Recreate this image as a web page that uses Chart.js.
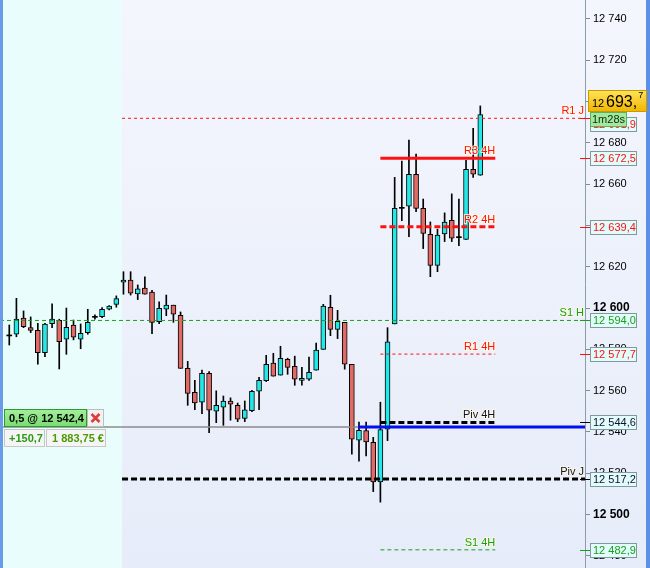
<!DOCTYPE html>
<html>
<head>
<meta charset="utf-8">
<title>DAX 1m</title>
<script src="https://cdn.jsdelivr.net/npm/chart.js@4.4.1/dist/chart.umd.min.js"></script>
<style>
html, body { margin: 0; padding: 0; background: #fff; }
#wrap { position: relative; width: 650px; height: 568px; }
</style>
</head>
<body>
<div id="wrap"><canvas id="chart" width="650" height="568"></canvas></div>
<script>
// candles
const opens  = [12586.5, 12587.3, 12595.1, 12590.5, 12589.2, 12578.4, 12592.4, 12594.1, 12584.9, 12591.7,
                12584.9, 12588.1, 12595.5, 12595.8, 12599.4, 12601.8, 12612.5, 12613.5, 12606.8, 12609.7,
                12607.7, 12593.4, 12599.4, 12601.4, 12596.5, 12570.8, 12559.2, 12554.4, 12568.4, 12550.0,
                12552.0, 12554.9, 12552.9, 12546.6, 12550.3, 12559.7, 12564.8, 12573.3, 12567.5, 12575.2,
                12571.8, 12565.0, 12565.5, 12569.9, 12580.0, 12600.4, 12589.7, 12593.1, 12572.8, 12536.0,
                12540.6, 12535.0, 12515.8, 12541.3, 12592.3, 12648.3, 12649.4, 12664.8, 12648.3, 12635.7,
                12620.7, 12635.9, 12642.5, 12634.1, 12633.3, 12667.2, 12664.3];
const highs  = [12591.8, 12604.7, 12598.6, 12595.7, 12592.6, 12592.6, 12602.0, 12594.6, 12600.0, 12594.2,
                12592.3, 12599.4, 12596.7, 12600.2, 12601.2, 12605.9, 12617.6, 12617.6, 12611.2, 12615.1,
                12608.6, 12603.0, 12606.3, 12601.4, 12598.1, 12574.2, 12565.0, 12569.9, 12569.2, 12559.9,
                12557.4, 12556.5, 12554.0, 12555.0, 12560.2, 12566.5, 12577.1, 12578.1, 12581.5, 12575.7,
                12576.7, 12571.3, 12576.2, 12583.0, 12601.8, 12606.2, 12598.9, 12593.1, 12572.8, 12544.8,
                12544.8, 12537.4, 12554.4, 12590.5, 12663.3, 12671.2, 12681.4, 12674.6, 12652.8, 12641.7,
                12638.2, 12646.1, 12655.3, 12652.8, 12671.6, 12687.1, 12697.9];
const lows   = [12582.1, 12586.1, 12590.5, 12588.1, 12572.8, 12576.5, 12590.5, 12570.5, 12577.6, 12584.6,
                12580.3, 12587.3, 12594.6, 12595.4, 12599.1, 12600.4, 12606.7, 12606.3, 12604.1, 12606.7,
                12587.6, 12592.4, 12596.3, 12593.1, 12570.8, 12552.9, 12550.8, 12548.9, 12539.7, 12544.5,
                12543.2, 12545.7, 12545.0, 12545.0, 12549.8, 12550.8, 12564.4, 12567.0, 12567.5, 12567.9,
                12562.6, 12562.6, 12565.0, 12569.9, 12580.0, 12586.6, 12585.2, 12570.4, 12529.2, 12525.8,
                12528.4, 12511.1, 12506.0, 12535.8, 12592.3, 12642.3, 12634.6, 12646.7, 12628.8, 12615.2,
                12617.6, 12632.2, 12632.2, 12630.2, 12633.3, 12663.3, 12664.3];
const closes = [12586.5, 12594.6, 12591.0, 12589.2, 12578.4, 12592.2, 12594.6, 12583.7, 12590.7, 12585.9,
                12587.8, 12593.1, 12595.5, 12599.4, 12600.9, 12604.6, 12613.6, 12607.2, 12609.3, 12606.7,
                12593.1, 12599.9, 12601.4, 12597.0, 12570.8, 12558.7, 12554.0, 12568.4, 12550.5, 12552.9,
                12554.9, 12553.4, 12546.2, 12550.7, 12559.7, 12565.0, 12572.8, 12567.0, 12575.7, 12571.3,
                12565.5, 12566.0, 12568.9, 12579.6, 12600.9, 12589.7, 12593.6, 12572.8, 12536.5, 12540.8,
                12535.2, 12515.8, 12541.1, 12583.7, 12648.3, 12648.3, 12664.8, 12648.3, 12636.2, 12620.7,
                12635.3, 12641.6, 12633.9, 12634.1, 12667.2, 12664.9, 12693.7];

const yTicks = [12480, 12500, 12520, 12540, 12560, 12580, 12600, 12620, 12640, 12660, 12680, 12700, 12720, 12740];

// pivot levels
const levelNames  = ['R1 J', 'R3 4H', 'R2 4H', 'S1 H', 'R1 4H', 'Piv 4H', 'Piv J', 'S1 4H'];
const levelValues = [12691.9, 12672.5, 12639.4, 12594.0, 12577.7, 12544.6, 12517.2, 12482.9];

// open position and last price
const positionSize = '0,5';
const positionPrice = 12542.4;
const positionPoints = '+150,7';
const positionMoney = '1 883,75 €';
const lastPrice = 12693.7;
const countdown = '1m28s';

const X_MIN = -1.3, X_MAX = 80.67;
const RED = '#ff1010', GREEN = '#18a018', DARK = '#101030';
// x extents (bar index units) and look of every level line
const levelStyle = [
  { from: 15.8, to: X_MAX, color: RED,   width: 1, dash: [3, 3], lab: 'axis' },
  { from: 52,   to: 68.1,  color: RED,   width: 3, dash: [],     lab: 'end' },
  { from: 52,   to: 68.1,  color: RED,   width: 3, dash: [6, 3], lab: 'end' },
  { from: X_MIN,to: X_MAX, color: GREEN, width: 1, dash: [4, 3], lab: 'axis' },
  { from: 52,   to: 68.1,  color: RED,   width: 1, dash: [3, 3], lab: 'end' },
  { from: 52,   to: 68.1,  color: '#000',width: 3, dash: [6, 3], lab: 'end', text: DARK },
  { from: 15.8, to: X_MAX, color: '#000',width: 3, dash: [6, 3], lab: 'axis', text: DARK },
  { from: 52,   to: 68.1,  color: GREEN, width: 1, dash: [4, 3], lab: 'end' }
];

const FONT = '"Liberation Sans", Arial, sans-serif';
const fmtInt = v => String(v).replace(/\B(?=(\d{3})+(?!\d))/g, ' ');
const fmtPrice = v => { const p = v.toFixed(1).split('.'); return fmtInt(p[0]) + ',' + p[1]; };

const idx = opens.map((_, i) => i);
const bodyColor = i => closes[i] > opens[i] ? '#22e8e8' : (closes[i] < opens[i] ? '#e06a66' : '#000');

const lineSets = levelValues.map((v, k) => ({
  type: 'line',
  label: levelNames[k],
  data: [{ x: levelStyle[k].from, y: v }, { x: levelStyle[k].to, y: v }],
  borderColor: levelStyle[k].color,
  borderWidth: levelStyle[k].width,
  borderDash: levelStyle[k].dash,
  pointRadius: 0,
  order: 0
}));
// position line: gray left of the entry, blue after it
lineSets.push({ type: 'line', label: 'pos', data: [{ x: X_MIN, y: positionPrice }, { x: 48.86, y: positionPrice }],
  borderColor: '#8a8a8a', borderWidth: 1.5, pointRadius: 0, order: 0 });
lineSets.push({ type: 'line', label: 'pos2', data: [{ x: 48.86, y: positionPrice }, { x: X_MAX, y: positionPrice }],
  borderColor: '#0010f0', borderWidth: 3, pointRadius: 0, order: 0 });

function box(ctx, x, y, w, h, fill, stroke) {
  ctx.fillStyle = fill;
  ctx.fillRect(x, y, w, h);
  ctx.strokeStyle = stroke;
  ctx.lineWidth = 1;
  ctx.strokeRect(x + 0.5, y + 0.5, w - 1, h - 1);
}

const decor = {
  id: 'decor',
  beforeDraw(chart) {
    const { ctx, scales: { x } } = chart;
    const g = ctx.createLinearGradient(0, 0, 0, 568);
    g.addColorStop(0, '#f4f6fd');
    g.addColorStop(1, '#e6ecf9');
    ctx.fillStyle = g;
    ctx.fillRect(0, 0, 650, 568);
    ctx.fillStyle = '#e9fdfd';
    ctx.fillRect(0, 0, x.getPixelForValue(15.8), 568);
  },
  afterDatasetsDraw(chart) {
    const { ctx, scales: { x, y } } = chart;
    ctx.save();
    ctx.font = '11px ' + FONT;
    ctx.textBaseline = 'alphabetic';
    ctx.textAlign = 'right';
    levelValues.forEach((v, k) => {
      const st = levelStyle[k];
      const py = y.getPixelForValue(v);
      const px = st.lab === 'axis' ? chart.chartArea.right - 1 : x.getPixelForValue(st.to);
      ctx.lineWidth = 2;
      ctx.strokeStyle = 'rgba(255,250,220,0.8)';
      ctx.strokeText(levelNames[k], px, py - 4);
      ctx.fillStyle = st.text || st.color;
      ctx.fillText(levelNames[k], px, py - 4);
    });
    ctx.restore();
  },
  afterDraw(chart) {
    const { ctx, scales: { y } } = chart;
    const right = chart.chartArea.right;
    ctx.save();
    // borders
    ctx.fillStyle = '#6a9be8';
    ctx.fillRect(0, 0, 3, 568);
    ctx.fillStyle = '#5c8fe6';
    ctx.fillRect(646, 0, 4, 568);

    // price boxes on the axis
    ctx.font = '11px ' + FONT;
    ctx.textAlign = 'left';
    ctx.textBaseline = 'middle';
    levelValues.forEach((v, k) => {
      const st = levelStyle[k];
      const py = Math.round(y.getPixelForValue(v));
      ctx.strokeStyle = st.color;
      ctx.lineWidth = 1;
      ctx.beginPath();
      ctx.moveTo(right - 5, py + 0.5);
      ctx.lineTo(right + 5, py + 0.5);
      ctx.stroke();
      const by = py - 7 + (k === 0 ? 6 : 0);
      box(ctx, right + 5, by, 47, 15, '#e2fbfb', '#7f9a9a');
      ctx.fillStyle = st.text || st.color;
      ctx.fillText(fmtPrice(v), right + 8, by + 8);
    });

    // last price
    const ly = y.getPixelForValue(lastPrice);
    const top = Math.round(ly - 25);
    const g = ctx.createLinearGradient(0, top, 0, top + 22);
    g.addColorStop(0, '#ffe45a');
    g.addColorStop(1, '#f2b400');
    box(ctx, right + 3, top, 59, 22, g, '#c99a00');
    const parts = fmtPrice(lastPrice).split(' ');
    const dec = parts[1].split(',');
    ctx.fillStyle = '#000';
    ctx.textBaseline = 'alphabetic';
    ctx.font = '11px ' + FONT;
    ctx.fillText(parts[0], right + 7, top + 17);
    ctx.font = '16px ' + FONT;
    ctx.fillText(dec[0] + ',', right + 21, top + 17);
    const w = ctx.measureText(dec[0] + ',').width;
    ctx.font = '9px ' + FONT;
    ctx.fillText(dec[1], right + 22 + w, top + 8);
    // countdown
    box(ctx, right + 5, top + 22, 37, 15, '#a4e8a0', '#5fb05a');
    ctx.font = '11px ' + FONT;
    ctx.fillStyle = '#0a2a0a';
    ctx.textBaseline = 'middle';
    ctx.fillText(countdown, right + 7, top + 30);

    // position panel
    const py = Math.round(y.getPixelForValue(positionPrice));
    const pt = py - 18;
    const pg = ctx.createLinearGradient(0, pt, 0, pt + 18);
    pg.addColorStop(0, '#a4f09c');
    pg.addColorStop(1, '#78dc70');
    box(ctx, 4, pt, 83, 18, pg, '#2f9a2f');
    ctx.font = 'bold 11px ' + FONT;
    ctx.fillStyle = '#000';
    ctx.fillText(positionSize + ' @ ' + fmtPrice(positionPrice), 9, pt + 9.5);
    box(ctx, 87, pt, 17, 18, '#f2f2f2', '#bdbdbd');
    ctx.strokeStyle = '#e03a3a';
    ctx.lineWidth = 2.5;
    ctx.beginPath();
    ctx.moveTo(91.5, pt + 5); ctx.lineTo(99.5, pt + 13);
    ctx.moveTo(99.5, pt + 5); ctx.lineTo(91.5, pt + 13);
    ctx.stroke();
    box(ctx, 4, pt + 20, 41, 18, '#f4f5f4', '#c5c8c5');
    box(ctx, 46, pt + 20, 60, 18, '#f4f5f4', '#c5c8c5');
    ctx.fillStyle = '#2a9a14';
    ctx.fillText(positionPoints, 9, pt + 29.5);
    ctx.fillStyle = '#4e9a06';
    ctx.fillText(positionMoney, 52, pt + 29.5);
    ctx.restore();
  }
};

new Chart(document.getElementById('chart'), {
  type: 'bar',
  data: {
    datasets: [
      {
        label: 'wicks',
        data: idx.map(i => ({ x: i, y: [lows[i], highs[i]] })),
        backgroundColor: '#000',
        borderWidth: 0,
        barThickness: 1,
        grouped: false,
        order: 2
      },
      {
        label: 'bodies',
        data: idx.map(i => ({ x: i, y: [opens[i], closes[i]] })),
        backgroundColor: c => bodyColor(c.dataIndex),
        borderColor: '#000',
        borderWidth: c => opens[c.dataIndex] === closes[c.dataIndex] ? 0 : 1,
        borderSkipped: false,
        barThickness: 5,
        minBarLength: 1,
        grouped: false,
        order: 1
      },
      ...lineSets
    ]
  },
  options: {
    responsive: false,
    animation: false,
    events: [],
    layout: { padding: 0 },
    plugins: { legend: { display: false }, tooltip: { enabled: false } },
    scales: {
      x: { type: 'linear', min: X_MIN, max: X_MAX, offset: false, display: false },
      y: {
        type: 'linear',
        position: 'right',
        min: 12474.1,
        max: 12749.2,
        afterBuildTicks: s => { s.ticks = yTicks.map(v => ({ value: v })); },
        afterFit: s => { s.width = 65; s.paddingTop = 0; s.paddingBottom = 0; },
        grid: { drawOnChartArea: false, tickLength: 5, color: '#7f8c99' },
        border: { color: '#8c9cac' },
        ticks: {
          padding: 3,
          color: '#000',
          font: c => (c.tick && c.tick.value % 100 === 0)
            ? { family: FONT, size: 12, weight: 'bold' }
            : { family: FONT, size: 11 },
          callback: v => fmtInt(v)
        }
      }
    }
  },
  plugins: [decor]
});
</script>
</body>
</html>
